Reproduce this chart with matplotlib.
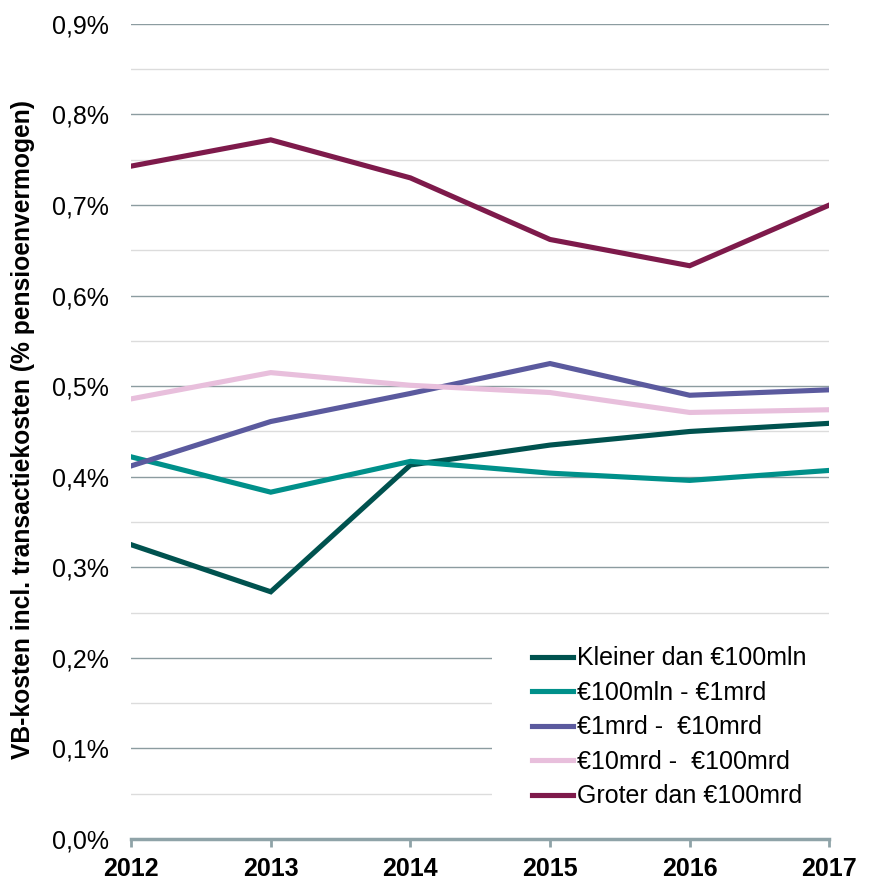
import matplotlib
matplotlib.use("Agg")
import matplotlib.pyplot as plt
from matplotlib.patches import Rectangle
from matplotlib.ticker import MultipleLocator, FuncFormatter

plt.rcParams["font.family"] = ["Liberation Sans", "DejaVu Sans"]

years = [2012, 2013, 2014, 2015, 2016, 2017]
labels = ["Kleiner dan €100mln", "€100mln - €1mrd", "€1mrd -  €10mrd",
          "€10mrd -  €100mrd", "Groter dan €100mrd"]
kleiner = [0.325, 0.273, 0.413, 0.435, 0.450, 0.459]
mln_mrd = [0.422, 0.383, 0.417, 0.404, 0.396, 0.407]
mrd_10 = [0.412, 0.461, 0.492, 0.525, 0.490, 0.496]
mrd_100 = [0.486, 0.515, 0.501, 0.493, 0.471, 0.474]
groter = [0.743, 0.772, 0.730, 0.662, 0.633, 0.700]
colors = ["#00524F", "#00908A", "#5B5A9E", "#E8BFDC", "#7E1A4B"]

fig = plt.figure(figsize=(8.86, 8.86), dpi=100)
ax = fig.add_axes([0.148, 0.053, 0.788, 0.92])

for series, lab, col in zip([kleiner, mln_mrd, mrd_10, mrd_100, groter], labels, colors):
    ax.plot(years, series, color=col, lw=3.7, label=lab, zorder=3,
            solid_joinstyle="miter")

ax.set_xlim(2012, 2017)
ax.set_ylim(0, 0.9)
ax.yaxis.set_major_locator(MultipleLocator(0.1))
ax.yaxis.set_minor_locator(MultipleLocator(0.05))
ax.yaxis.set_major_formatter(FuncFormatter(lambda v, p: f"{v:.1f}%".replace(".", ",")))
ax.set_xticks(years)
ax.grid(axis="y", which="major", color="#8C9CA0", lw=1.0, zorder=0)
ax.grid(axis="y", which="minor", color="#DCDCDC", lw=1.0, zorder=0)
ax.set_axisbelow(True)

for s in ["left", "right", "top"]:
    ax.spines[s].set_visible(False)
ax.spines["bottom"].set_color("#8FA3A8")
ax.spines["bottom"].set_linewidth(2.5)

ax.tick_params(axis="y", which="both", length=0, labelsize=18, pad=16)
ax.tick_params(axis="x", length=6, width=2, color="#8FA3A8", labelsize=18, pad=7)
for t in ax.get_xticklabels():
    t.set_fontweight("bold")

ax.set_ylabel("VB-kosten incl. transactiekosten (% pensioenvermogen)",
              fontsize=17.7, fontweight="bold")
ax.yaxis.set_label_coords(-0.138, 0.502)

# white area behind the legend hides the gridlines there
ax.add_patch(Rectangle((0.517, 0.029), 0.5, 0.227, transform=ax.transAxes,
                       facecolor="white", edgecolor="none", zorder=2,
                       clip_on=False))

leg = ax.legend(loc="center left", bbox_to_anchor=(0.5745, 0.137), fontsize=18,
                frameon=False, handlelength=1.64, handletextpad=0.16,
                labelspacing=0.42, borderaxespad=0, borderpad=0)
leg.set_zorder(5)

fig.savefig("out.png", dpi=100)
